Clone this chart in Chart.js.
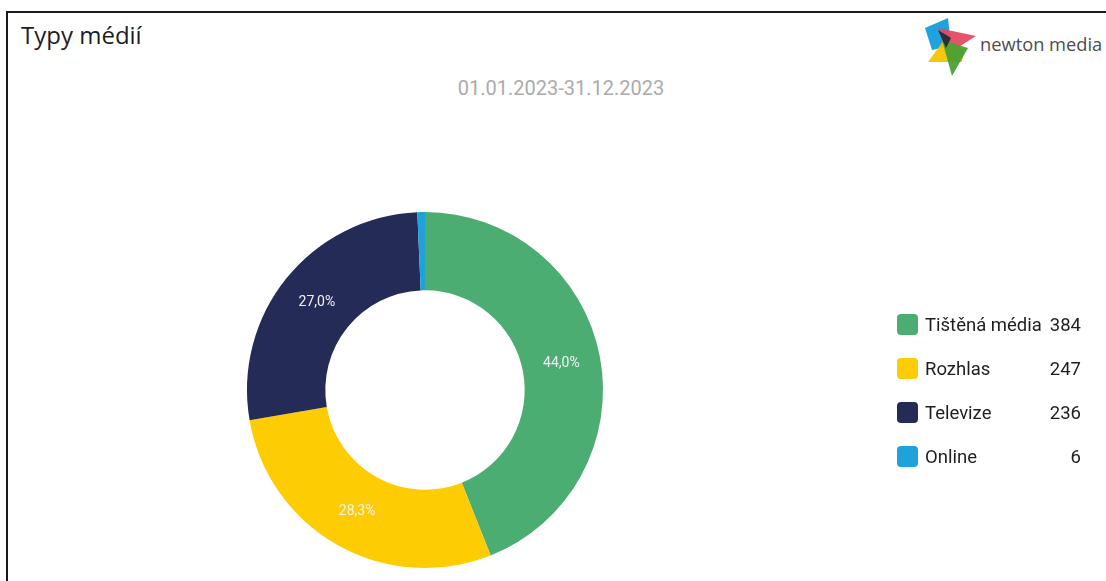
<!DOCTYPE html>
<html>
<head>
<meta charset="utf-8">
<script src="https://cdn.jsdelivr.net/npm/chart.js@4"></script>
<style>
  html, body { margin: 0; padding: 0; background: #fff; }
  body { width: 1106px; height: 581px; position: relative; overflow: hidden; }
  #frame { position: absolute; left: 6px; top: 11px; width: 1200px; height: 700px;
           border-top: 2px solid #1a1a1a; border-left: 2px solid #1a1a1a; }
  #title { position: absolute; left: 21px; top: 18px; font-family: "Open Sans", sans-serif;
           font-size: 24px; color: #1e1e1e; }
  #range { position: absolute; left: 0; width: 1122px; text-align: center; top: 76px;
           font-family: Roboto, sans-serif; font-size: 20px; color: #ababab; }
  #logo { position: absolute; left: 924px; top: 16px; }
  #brand { position: absolute; left: 980px; top: 31px; font-family: "Open Sans", sans-serif;
           font-size: 18.3px; color: #4d4d4d; white-space: nowrap; }
  canvas { position: absolute; left: 0; top: 0; }
  #legend { position: absolute; left: 897px; top: 314px; width: 184px;
            font-family: Roboto, sans-serif; font-size: 18.5px; color: #1e1e1e; }
  .row { display: flex; align-items: center; height: 21px; margin-bottom: 23px; }
  .sw { width: 21px; height: 21px; border-radius: 4px; margin-right: 7px; flex: none; }
  .lab { flex: 1; }
  .val { text-align: right; }
</style>
</head>
<body>
<div id="frame"></div>
<div id="title">Typy médií</div>
<div id="range">01.01.2023-31.12.2023</div>
<svg id="logo" width="54" height="62" viewBox="0 0 54 62">
  <polygon points="1,12 24,2 27,30 8,34" fill="#1ea3dc"/>
  <polygon points="14,12 52,20 30,34" fill="#e2475e" opacity="0.92"/>
  <polygon points="4,46 20,24 40,34 38,46" fill="#f4c400" opacity="0.95"/>
  <polygon points="18,24 44,32 28,60" fill="#4aa034" opacity="0.95"/>
  <polygon points="14,14 27,22 22,32" fill="#2c2c3c"/>
</svg>
<div id="brand">newton media</div>
<canvas id="chart" width="1106" height="581"></canvas>
<div id="legend"></div>
<script>
const categories = ["Tištěná média", "Rozhlas", "Televize", "Online"];
const counts = [384, 247, 236, 6];
const colors = ["#4cad72", "#fdcc02", "#242b57", "#1fa2da"];

const total = counts.reduce((a, b) => a + b, 0);

const pctLabels = {
  id: 'pctLabels',
  afterDatasetsDraw(chart) {
    const ctx = chart.ctx;
    const meta = chart.getDatasetMeta(0);
    ctx.save();
    ctx.font = '14px Roboto, sans-serif';
    ctx.fillStyle = '#f2f2f2';
    ctx.textAlign = 'center';
    ctx.textBaseline = 'middle';
    meta.data.forEach((arc, i) => {
      const share = counts[i] / total * 100;
      if (share < 3) return;
      const p = arc.tooltipPosition();
      ctx.fillText(share.toFixed(1).replace('.', ',') + '%', p.x, p.y);
    });
    ctx.restore();
  }
};

new Chart(document.getElementById('chart'), {
  type: 'doughnut',
  data: {
    labels: categories,
    datasets: [{
      data: counts,
      backgroundColor: colors,
      borderWidth: 0
    }]
  },
  options: {
    responsive: false,
    animation: false,
    cutout: '56%',
    layout: { padding: { left: 247, right: 503, top: 212, bottom: 13 } },
    plugins: {
      legend: { display: false },
      tooltip: { enabled: false }
    }
  },
  plugins: [pctLabels]
});

const legend = document.getElementById('legend');
categories.forEach((name, i) => {
  const row = document.createElement('div');
  row.className = 'row';
  row.innerHTML = '<span class="sw" style="background:' + colors[i] + '"></span>' +
    '<span class="lab">' + name + '</span><span class="val">' + counts[i] + '</span>';
  legend.appendChild(row);
});
</script>
</body>
</html>
